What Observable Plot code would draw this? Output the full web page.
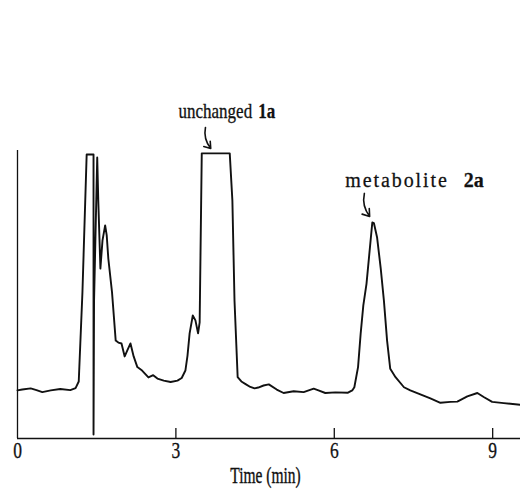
<!DOCTYPE html>
<html><head><meta charset="utf-8">
<script src="https://cdn.jsdelivr.net/npm/d3@7"></script>
<script src="https://cdn.jsdelivr.net/npm/@observablehq/plot@0.6"></script>
<style>html,body{margin:0;padding:0;background:#fff} #chart svg{display:block}</style>
</head><body><div id="chart"></div>
<script>
// Chromatogram trace (time in min, detector signal in arbitrary units)
const time = [0.00,0.09,0.25,0.36,0.47,0.63,0.81,1.00,1.10,1.16,1.23,1.31,1.44,1.44,1.45,1.51,1.53,1.57,1.61,1.66,1.69,1.72,1.79,1.86,1.91,1.97,2.03,2.08,2.14,2.20,2.27,2.36,2.48,2.57,2.65,2.77,2.90,3.03,3.11,3.18,3.22,3.26,3.32,3.37,3.42,3.45,3.49,4.02,4.07,4.11,4.17,4.24,4.32,4.41,4.49,4.56,4.66,4.76,4.91,5.04,5.23,5.42,5.61,5.70,5.83,6.02,6.26,6.34,6.38,6.45,6.50,6.55,6.61,6.67,6.72,6.75,6.81,6.88,6.94,7.00,7.06,7.16,7.32,7.44,7.63,7.82,8.01,8.20,8.33,8.52,8.71,8.83,8.99,9.21,9.52];
const signal = [16.7,17.0,17.4,16.8,16.1,16.7,17.2,16.8,17.5,19.8,50.8,98.6,98.6,1.4,47.9,97.6,82.6,59.0,68.8,74.0,70.5,62.5,50.8,34.0,33.3,33.0,28.5,30.6,33.0,28.5,24.8,23.6,21.2,22.0,20.8,20.1,19.6,20.1,21.0,23.6,28.8,36.5,42.7,41.0,36.5,40.3,99.0,99.0,82.6,47.9,21.3,19.8,18.9,17.9,17.4,17.7,18.4,18.8,17.0,15.8,16.4,16.1,17.3,16.7,15.8,16.0,15.9,16.7,17.8,24.8,36.5,46.2,53.7,65.3,75.0,74.8,69.9,59.0,47.9,34.0,24.2,21.3,17.8,16.7,15.3,13.9,12.4,12.7,12.8,14.6,15.8,14.4,12.7,12.3,11.7];

const xTicks = [0, 3, 6, 9];
const xMax = 9.527;
const yMax = 100;
const xLabel = "Time (min)";

// Peak annotations
const labelText   = ["unchanged", "1a", "metabolite", "2a"];
const labelTime   = [3.05, 4.56, 6.21, 8.45];
const labelSignal = [113.4, 113.4, 89.7, 89.7];
const labelBold   = [false, true, false, true];
const labelSize   = [17, 17, 20, 20];
const arrowTime1   = [3.56, 6.57];
const arrowSignal1 = [108.0, 85.1];
const arrowTime2   = [3.66, 6.67];
const arrowSignal2 = [100.7, 77.1];

const trace = time.map((t, i) => ({t, s: signal[i]}));
const labels = labelText.map((text, i) => ({text, t: labelTime[i], s: labelSignal[i], bold: labelBold[i], size: labelSize[i]}));
const arrows = arrowTime1.map((t, i) => ({t1: t, s1: arrowSignal1[i], t2: arrowTime2[i], s2: arrowSignal2[i]}));

const serif = "'Liberation Serif', 'DejaVu Serif', serif";
const ink = "#111";

const labelMark = (size, bold) => Plot.text(labels.filter(d => d.size === size && d.bold === bold), {
  x: "t", y: "s", text: "text", textAnchor: "start", lineAnchor: "middle",
  fontSize: size, fontWeight: bold ? "bold" : "normal", fontFamily: serif, fill: ink,
  stroke: ink, strokeWidth: 0.25
});

const chart = Plot.plot({
  width: 520,
  height: 503,
  marginLeft: 17,
  marginRight: 0,
  marginTop: 150,
  marginBottom: 65,
  style: {fontFamily: serif, background: "#fff", color: ink},
  x: {domain: [0, xMax], axis: null},
  y: {domain: [0, yMax], axis: null},
  marks: [
    Plot.ruleX([0], {stroke: ink, strokeWidth: 1.3}),
    Plot.ruleY([0], {stroke: ink, strokeWidth: 1.3}),
    Plot.axisX({ticks: xTicks.filter(d => d > 0), tickSize: 10, dy: -10, tickFormat: () => "", stroke: ink, strokeWidth: 1.3, label: null}),
    Plot.text(xTicks, {x: d => d, text: d => String(d), frameAnchor: "bottom", dy: 4, lineAnchor: "top", fontSize: 17.5, fontFamily: serif, fill: ink, stroke: ink, strokeWidth: 0.25}),
    Plot.text([xLabel], {frameAnchor: "bottom", text: d => d, dx: -3.5, dy: 29, lineAnchor: "top", fontSize: 15.5, fontFamily: serif, fill: ink, stroke: ink, strokeWidth: 0.25}),
    Plot.line(trace, {x: "t", y: "s", stroke: ink, strokeWidth: 1.9, strokeLinejoin: "round"}),
    Plot.arrow(arrows, {x1: "t1", y1: "s1", x2: "t2", y2: "s2", bend: -25, stroke: ink, strokeWidth: 1.6, headLength: 8, headAngle: 70}),
    labelMark(17, false),
    labelMark(17, true),
    labelMark(20, false),
    labelMark(20, true)
  ]
});

// Vertically stretched type, as in the printed figure
const tickStrings = xTicks.map(String);
chart.querySelectorAll("text").forEach(el => {
  const s = el.textContent;
  let k = null;
  if (tickStrings.includes(s)) k = 1.28;
  else if (s === xLabel) k = 1.45;
  else if (s === "unchanged" || s === "1a") k = 1.2;
  else if (s === "metabolite" || s === "2a") k = 1.08;
  if (k) {
    const tr = el.getAttribute("transform") || "";
    el.setAttribute("transform", (tr + ` scale(1,${k})`).trim());
  }
  if (s === "metabolite") el.setAttribute("letter-spacing", "1.9");
});

document.getElementById("chart").appendChild(chart);
</script>
</body></html>
